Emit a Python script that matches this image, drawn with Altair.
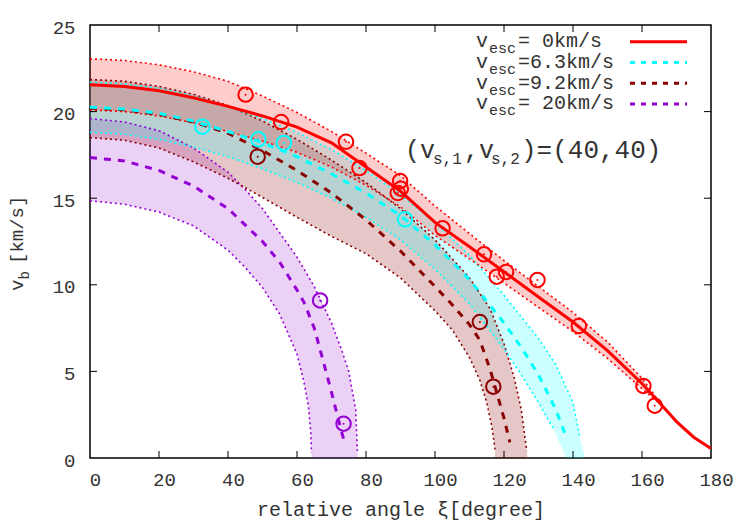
import altair as alt
import pandas as pd

FONT = "Liberation Mono"
TXT = "#333333"

# ---------------- data ----------------
x_ticks = [0, 20, 40, 60, 80, 100, 120, 140, 160, 180]
y_ticks = [0, 5, 10, 15, 20, 25]

# v_esc = 0 km/s (red)
red_c_x = [0, 10, 20, 30, 40, 50, 60, 70, 80, 90, 100, 110, 120, 130, 140, 150, 160, 165, 170, 175, 180]
red_c_y = [21.55, 21.45, 21.2, 20.8, 20.3, 19.75, 19.1, 18.2, 16.8, 15.4, 13.6, 12.2, 10.75, 9.3, 7.85, 6.2, 4.3, 3.2, 2.1, 1.2, 0.55]
red_up_x = [0, 10, 20, 30, 40, 50, 60, 70, 80, 90, 100, 110, 120, 130, 140, 150, 160, 166]
red_up_y = [23.05, 22.95, 22.7, 22.3, 21.75, 20.9, 19.95, 18.85, 17.6, 16.3, 14.55, 12.95, 11.4, 9.9, 8.4, 6.7, 4.6, 3.0]
red_lo_x = [0, 10, 20, 30, 40, 50, 60, 70, 80, 90, 100, 110, 120, 130, 140, 150, 160, 166]
red_lo_y = [20.1, 20.0, 19.75, 19.35, 18.85, 18.3, 17.65, 16.8, 15.75, 14.5, 12.85, 11.5, 10.1, 8.7, 7.3, 5.75, 4.0, 3.0]
red_tail_x = [166, 170, 174]
red_tail_y = [3.0, 2.1, 1.35]
red_pts_x = [45.1, 55.4, 74.2, 78.1, 89.9, 90.1, 89.2, 102.2, 114.2, 117.9, 120.6, 129.7, 141.7, 160.4, 163.7]
red_pts_y = [20.98, 19.40, 18.26, 16.74, 15.99, 15.55, 15.3, 13.26, 11.76, 10.47, 10.74, 10.28, 7.62, 4.16, 3.02]

# v_esc = 6.3 km/s (cyan)
cyan_c_x = [0, 10, 20, 30, 40, 50, 60, 70, 80, 90, 100, 110, 120, 125, 130, 135, 137.7]
cyan_c_y = [20.25, 20.15, 19.9, 19.45, 18.85, 18.2, 17.4, 16.4, 15.3, 14.0, 12.3, 10.3, 7.8, 6.4, 4.8, 2.8, 1.4]
cyan_up_x = [0, 10, 20, 30, 40, 50, 60, 70, 80, 90, 100, 110, 120, 130, 135, 140, 142]
cyan_up_y = [21.7, 21.6, 21.35, 20.9, 20.3, 19.6, 18.8, 17.8, 16.6, 15.2, 13.6, 11.7, 9.4, 6.9, 5.4, 3.2, 1.2]
cyan_lo_x = [0, 10, 20, 30, 40, 50, 60, 70, 80, 90, 100, 110, 120, 125, 130, 134.3]
cyan_lo_y = [18.8, 18.7, 18.4, 17.95, 17.4, 16.7, 15.9, 15.0, 13.9, 12.6, 10.9, 8.9, 6.3, 4.8, 3.2, 1.7]
cyan_base_x = [143.5, 138.0]
cyan_pts_x = [32.6, 48.8, 56.2, 91.3]
cyan_pts_y = [19.13, 18.40, 18.19, 13.78]

# v_esc = 9.2 km/s (dark red)
brown_c_x = [0, 10, 20, 30, 40, 50, 60, 70, 80, 90, 100, 105, 110, 113, 116, 118, 120, 121.7]
brown_c_y = [20.2, 20.1, 19.85, 19.4, 18.75, 17.75, 16.6, 15.3, 13.75, 11.95, 9.9, 8.85, 7.7, 6.8, 5.1, 3.7, 2.3, 0.9]
brown_up_x = [0, 10, 20, 30, 40, 50, 60, 70, 80, 90, 100, 110, 116, 120, 123, 125, 126.6]
brown_up_y = [21.85, 21.75, 21.45, 21.0, 20.35, 19.45, 18.4, 17.2, 15.9, 14.4, 12.6, 10.4, 8.6, 6.6, 4.6, 2.8, 0.4]
brown_lo_x = [0, 10, 20, 30, 40, 50, 60, 70, 80, 90, 100, 105, 110, 113, 115, 116.5, 117.4]
brown_lo_y = [18.5, 18.35, 17.9, 17.1, 16.15, 15.05, 13.9, 12.8, 11.8, 10.4, 8.5, 7.4, 5.8, 4.5, 3.2, 1.8, 0.5]
brown_base_x = [126.8, 117.4]
brown_pts_x = [48.6, 113.0, 116.9]
brown_pts_y = [17.40, 7.85, 4.12]

# v_esc = 20 km/s (purple)
purple_c_x = [0, 10, 20, 30, 40, 50, 55, 60, 62, 65, 68, 70, 72, 73.5]
purple_c_y = [17.35, 17.15, 16.6, 15.7, 14.4, 12.5, 11.3, 9.7, 9.0, 7.5, 5.3, 3.8, 2.2, 1.1]
purple_up_x = [0, 10, 20, 30, 40, 45, 50, 55, 60, 65, 70, 73, 75, 77, 77.5]
purple_up_y = [19.6, 19.4, 18.9, 17.9, 16.5, 15.5, 14.4, 13.0, 11.6, 9.9, 7.8, 6.2, 5.0, 2.8, 0.4]
purple_lo_x = [0, 10, 20, 30, 40, 45, 50, 55, 60, 62, 63.3, 64, 64.2]
purple_lo_y = [14.85, 14.65, 14.2, 13.4, 12.0, 11.0, 9.85, 8.3, 6.0, 4.4, 3.0, 1.5, 0.3]
purple_base_x = [77.6, 64.2]
purple_pts_x = [66.7, 73.5]
purple_pts_y = [9.10, 1.98]

legend_labels = ["=  0km/s", "=6.3km/s", "=9.2km/s", "= 20km/s"]

RED, CYAN, BROWN, PURPLE = "#ff0000", "#00ffff", "#8b0000", "#9400d3"

# ---------------- helpers ----------------
W, H = 621, 433
xs = alt.Scale(domain=[0, 180], nice=False, zero=False)
ys = alt.Scale(domain=[0, 25], nice=False, zero=False)

XAX = alt.Axis(values=x_ticks, ticks=False, domain=False, grid=False,
               labelFont=FONT, labelFontSize=19, labelColor=TXT, labelPadding=12,
               labelOffset=5, labelFlush=False, title="relative angle ξ[degree]",
               titleFont=FONT, titleFontSize=20, titleFontWeight="normal",
               titleColor=TXT, titlePadding=10)
YAX = alt.Axis(values=y_ticks, ticks=False, domain=False, grid=False,
               labelFont=FONT, labelFontSize=19, labelColor=TXT, labelPadding=15,
               labelOffset=2, labelFlush=False, title="")


def X(field="x"):
    return alt.X(f"{field}:Q", scale=xs, axis=XAX)


def Y(field="y"):
    return alt.Y(f"{field}:Q", scale=ys, axis=YAX)


def line_df(xv, yv):
    return pd.DataFrame({"x": xv, "y": yv, "i": list(range(len(xv)))})


def enc(chart):
    return chart.encode(x=X(), y=Y(), order="i:Q")


def band(upx, upy, lox, loy, base_x, color, op):
    px = list(upx) + list(base_x) + list(lox)[::-1]
    py = list(upy) + [0.0] * len(base_x) + list(loy)[::-1]
    return enc(alt.Chart(line_df(px, py)).mark_line(
        fill=color, fillOpacity=op, strokeWidth=0, clip=True, interpolate="linear"))


def dotted(xv, yv, color):
    return enc(alt.Chart(line_df(xv, yv)).mark_line(
        color=color, strokeWidth=1.6, strokeDash=[2, 3], clip=True))


def dashed(xv, yv, color):
    return enc(alt.Chart(line_df(xv, yv)).mark_line(
        color=color, strokeWidth=3, strokeDash=[7, 7], clip=True))


def pts(xv, yv, color):
    d = pd.DataFrame({"x": xv, "y": yv})
    ring = alt.Chart(d).mark_point(shape="circle", filled=False, size=210,
                                   strokeWidth=2, color=color, opacity=1).encode(x=X(), y=Y())
    dot = alt.Chart(d).mark_circle(size=4, color=color, opacity=1).encode(x=X(), y=Y())
    return [ring, dot]


layers = []
layers.append(band(purple_up_x, purple_up_y, purple_lo_x, purple_lo_y, purple_base_x, PURPLE, 0.18))
layers.append(band(brown_up_x, brown_up_y, brown_lo_x, brown_lo_y, brown_base_x, BROWN, 0.22))
layers.append(band(cyan_up_x, cyan_up_y, cyan_lo_x, cyan_lo_y, cyan_base_x, CYAN, 0.2))
layers.append(band(red_up_x, red_up_y, red_lo_x, red_lo_y, [], RED, 0.2))

for (ux, uy, lx, ly, col) in [
    (purple_up_x, purple_up_y, purple_lo_x, purple_lo_y, PURPLE),
    (brown_up_x, brown_up_y, brown_lo_x, brown_lo_y, BROWN),
    (cyan_up_x, cyan_up_y, cyan_lo_x, cyan_lo_y, CYAN),
    (red_up_x + red_tail_x[1:], red_up_y + red_tail_y[1:], red_lo_x + red_tail_x[1:], red_lo_y + red_tail_y[1:], RED),
]:
    layers.append(dotted(ux, uy, col))
    layers.append(dotted(lx, ly, col))

layers.append(dashed(purple_c_x, purple_c_y, PURPLE))
layers.append(dashed(brown_c_x, brown_c_y, BROWN))
layers.append(dashed(cyan_c_x, cyan_c_y, CYAN))
layers.append(enc(alt.Chart(line_df(red_c_x, red_c_y)).mark_line(color=RED, strokeWidth=3, clip=True)))

layers += pts(purple_pts_x, purple_pts_y, PURPLE)
layers += pts(brown_pts_x, brown_pts_y, BROWN)
layers += pts(cyan_pts_x, cyan_pts_y, CYAN)
layers += pts(red_pts_x, red_pts_y, RED)

# inward ticks on all four sides
TL = 7
xt = pd.DataFrame({"x": x_ticks[1:-1]})
yt = pd.DataFrame({"y": y_ticks[1:-1]})
layers.append(alt.Chart(xt).mark_rule(color="black", strokeWidth=1).encode(
    x=X(), y=alt.value(H), y2=alt.value(H - TL)))
layers.append(alt.Chart(xt).mark_rule(color="black", strokeWidth=1).encode(
    x=X(), y=alt.value(0), y2=alt.value(TL)))
layers.append(alt.Chart(yt).mark_rule(color="black", strokeWidth=1).encode(
    y=Y(), x=alt.value(0), x2=alt.value(TL)))
layers.append(alt.Chart(yt).mark_rule(color="black", strokeWidth=1).encode(
    y=Y(), x=alt.value(W), x2=alt.value(W - TL)))

one = pd.DataFrame({"a": [0]})


def txt(s, x, y, size, angle=0, align="left", baseline="alphabetic", color=TXT):
    kw = dict(text=s, font=FONT, fontSize=size, align=align, baseline=baseline, color=color)
    if angle:
        kw["angle"] = angle
    return alt.Chart(one).mark_text(**kw).encode(x=alt.value(x), y=alt.value(y))


# y-axis title  v_b [km/s]
layers.append(txt("v", -67, 266, 19, angle=270))
layers.append(txt("b", -61.5, 254.5, 14, angle=270))
layers.append(txt("[km/s]", -67, 239, 19, angle=270))

# legend
colors = [RED, CYAN, BROWN, PURPLE]
dashes = [[1, 0], [5, 6], [5, 6], [5, 6]]
for k, lab in enumerate(legend_labels):
    yb = 22.3 + 20.7 * k
    layers.append(txt("v", 386, yb, 20))
    layers.append(txt("esc", 399, yb + 6, 15))
    layers.append(txt(lab, 428, yb, 20))
    layers.append(alt.Chart(one).mark_rule(color=colors[k], strokeWidth=3, strokeDash=dashes[k]).encode(
        x=alt.value(540), x2=alt.value(597), y=alt.value(yb - 5.5)))

# annotation (v_s,1, v_s,2)=(40,40)
layers.append(txt("(v", 315, 133, 25))
layers.append(txt("s,1", 343, 138.5, 16))
layers.append(txt(",v", 374, 133, 25))
layers.append(txt("s,2", 401, 138.5, 16))
layers.append(txt(")=(40,40)", 431, 133, 26))

chart = alt.layer(*layers).properties(
    width=W, height=H,
    autosize=alt.AutoSizeParams(type="none"),
    padding={"left": 90, "top": 25, "right": 39, "bottom": 67},
    background="white",
).configure_view(stroke="black", strokeWidth=1.5)

chart.save("out.html", embed_options={"renderer": "svg", "actions": False})
